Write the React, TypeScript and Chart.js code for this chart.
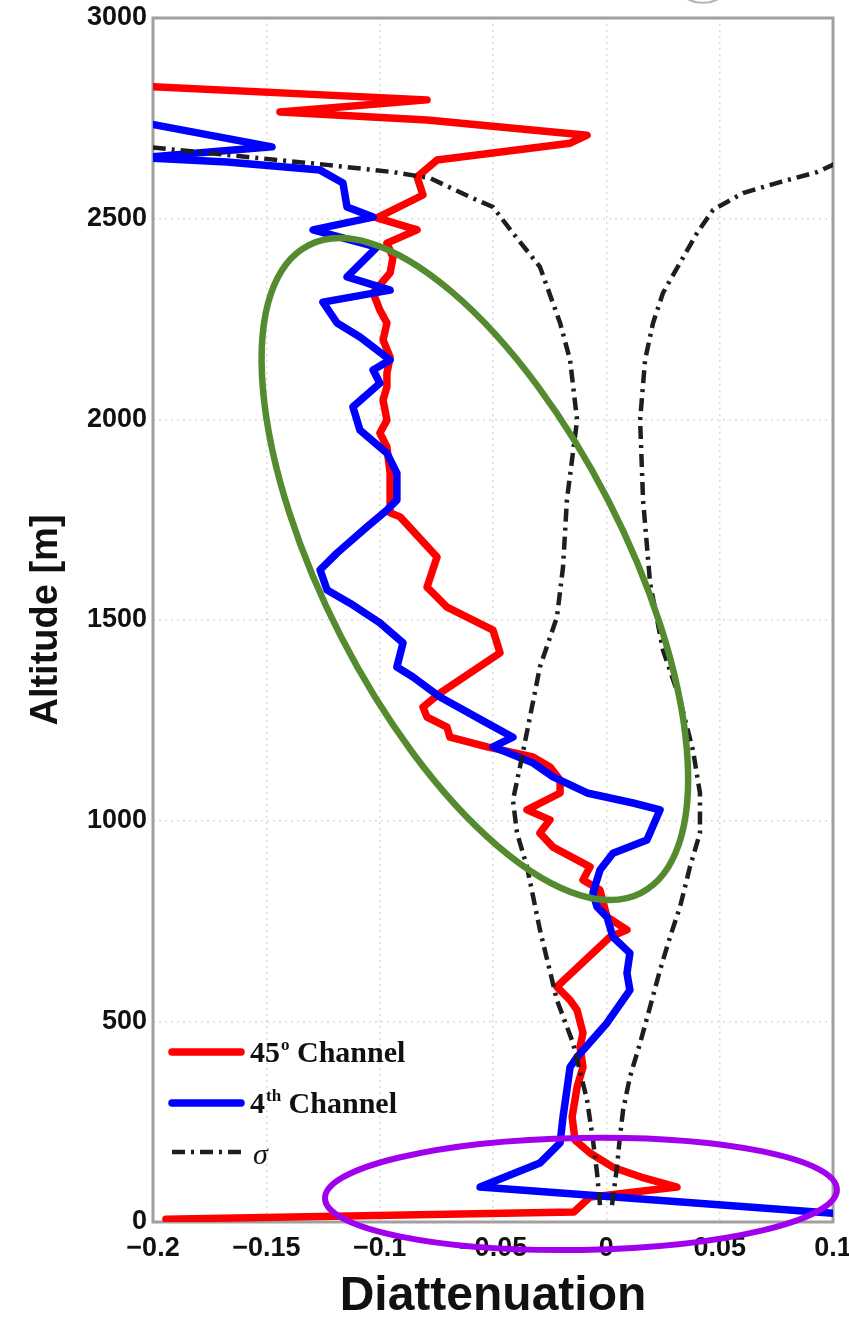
import { useEffect, useRef } from "react";
import { Chart, registerables } from "chart.js";

Chart.register(...registerables);

// 45° channel (red), altitude [m] and diattenuation
const red45Altitude = [7, 25, 62, 87, 112, 135, 172, 204, 262, 336, 386, 436, 471, 528, 553, 586, 710, 728, 760, 827, 852, 885, 934, 969, 1002, 1027, 1069, 1101, 1134, 1159, 1184, 1208, 1233, 1258, 1283, 1318, 1418, 1475, 1532, 1582, 1657, 1757, 1767, 1866, 1931, 1966, 1998, 2048, 2081, 2115, 2155, 2198, 2240, 2272, 2315, 2365, 2404, 2439, 2472, 2502, 2559, 2604, 2646, 2688, 2708, 2746, 2766, 2796, 2830];
const red45Value = [-0.1943, -0.0143, -0.0072, 0.0312, 0.0153, 0.0034, -0.0072, -0.0138, -0.0151, -0.0129, -0.0103, -0.0116, -0.0103, -0.0129, -0.016, -0.0218, 0.0016, 0.0091, 0.0003, -0.0028, -0.0103, -0.0072, -0.0235, -0.0293, -0.0249, -0.035, -0.0204, -0.0204, -0.0249, -0.0324, -0.0526, -0.069, -0.0703, -0.0791, -0.0809, -0.0734, -0.0469, -0.05, -0.0703, -0.0791, -0.0747, -0.091, -0.0954, -0.0954, -0.0968, -0.0999, -0.0968, -0.0985, -0.0968, -0.0968, -0.0954, -0.0985, -0.0968, -0.0999, -0.1029, -0.0954, -0.0941, -0.0968, -0.0835, -0.1012, -0.0809, -0.0835, -0.0747, -0.016, -0.0085, -0.0791, -0.144, -0.0791, -0.205];

// 4th channel (blue)
const blue4thAltitude = [22, 87, 147, 197, 262, 329, 386, 411, 496, 578, 620, 670, 710, 760, 785, 820, 877, 919, 952, 1027, 1044, 1069, 1109, 1144, 1184, 1208, 1243, 1308, 1358, 1383, 1443, 1493, 1542, 1575, 1625, 1667, 1732, 1774, 1799, 1866, 1916, 1973, 2031, 2090, 2123, 2148, 2205, 2240, 2292, 2322, 2355, 2429, 2472, 2504, 2529, 2589, 2621, 2641, 2652, 2679, 2740];
const blue4thValue = [0.1, -0.0557, -0.0293, -0.0204, -0.0191, -0.0174, -0.016, -0.0129, 0.0003, 0.0104, 0.0091, 0.0104, 0.0029, 0.0003, -0.0041, -0.0059, -0.0028, 0.0029, 0.0179, 0.0237, 0.0118, -0.0085, -0.0235, -0.0324, -0.05, -0.0412, -0.0526, -0.0734, -0.0853, -0.0924, -0.0897, -0.0999, -0.1131, -0.1232, -0.1263, -0.1188, -0.1056, -0.0968, -0.0924, -0.0924, -0.0968, -0.1087, -0.1118, -0.0999, -0.1029, -0.0954, -0.1087, -0.1188, -0.125, -0.0954, -0.1144, -0.1012, -0.1294, -0.1029, -0.1144, -0.1162, -0.1263, -0.1674, -0.205, -0.1475, -0.205];

// sigma envelope (dash-dot)
const sigmaLeftAltitude = [42, 122, 204, 304, 446, 553, 728, 885, 969, 1051, 1134, 1258, 1383, 1507, 1632, 1799, 1998, 2148, 2240, 2380, 2464, 2529, 2554, 2601, 2616, 2634, 2680];
const sigmaLeftValue = [-0.0028, -0.0041, -0.0059, -0.0085, -0.0147, -0.0218, -0.0293, -0.035, -0.0394, -0.0412, -0.0381, -0.0337, -0.0293, -0.0218, -0.0191, -0.0174, -0.0129, -0.016, -0.0204, -0.0293, -0.0412, -0.05, -0.0601, -0.0778, -0.0941, -0.1232, -0.205];
const sigmaRightAltitude = [42, 137, 212, 279, 361, 446, 536, 628, 710, 785, 885, 969, 1069, 1176, 1301, 1425, 1592, 1799, 1998, 2148, 2240, 2315, 2390, 2464, 2522, 2564, 2591, 2616, 2645];
const sigmaRightValue = [0.0025, 0.0047, 0.006, 0.0074, 0.0104, 0.0149, 0.0193, 0.0237, 0.0281, 0.0325, 0.0369, 0.0413, 0.0413, 0.0382, 0.0325, 0.025, 0.0193, 0.0162, 0.0149, 0.0171, 0.0206, 0.025, 0.0325, 0.04, 0.0471, 0.0603, 0.0766, 0.0929, 0.104];

const xTickValues = [-0.2, -0.15, -0.1, -0.05, 0, 0.05, 0.1];
const xTickLabels = ["\u22120.2", "\u22120.15", "\u22120.1", "\u22120.05", "0", "0.05", "0.1"];
const yTickValues = [0, 500, 1000, 1500, 2000, 2500, 3000];
const yTickLabels = ["0", "500", "1000", "1500", "2000", "2500", "3000"];

const legendMain = ["45", "4", "\u03C3"];
const legendSup = ["o", "th", ""];
const legendRest = [" Channel", " Channel", ""];

const xTitle = "Diattenuation";
const yTitle = "Altitude [m]";

const toPoints = (vals: number[], alts: number[]) => vals.map((v, i) => ({ x: v, y: alts[i] }));

const SANS = '"Liberation Sans", Arial, sans-serif';
const SERIF = '"Liberation Serif", "Times New Roman", serif';
const SIGMA_DASH = [13, 6, 3, 6];

export default function App() {
  const ref = useRef<HTMLCanvasElement>(null);

  useEffect(() => {
    const canvas = ref.current;
    if (!canvas) return;

    const deco = {
      id: "deco",
      beforeDatasetsDraw(chart: any) {
        const { ctx, chartArea: a } = chart;
        ctx.save();
        ctx.strokeStyle = "#a0a0a0";
        ctx.lineWidth = 3;
        ctx.strokeRect(a.left, a.top, a.right - a.left, a.bottom - a.top);
        ctx.restore();
      },
      afterDraw(chart: any) {
        const { ctx, chartArea: a, scales } = chart;
        const xs = scales.x;
        const ys = scales.y;
        // legend
        const rows = [a.bottom - 170, a.bottom - 119, a.bottom - 70];
        const styles = [
          { color: "#ff0000", width: 7.5, dash: [] as number[] },
          { color: "#0000ff", width: 7.5, dash: [] as number[] },
          { color: "#1e1e1e", width: 4.5, dash: SIGMA_DASH },
        ];
        ctx.save();
        rows.forEach((y, i) => {
          const s = styles[i];
          ctx.beginPath();
          ctx.setLineDash(s.dash);
          ctx.strokeStyle = s.color;
          ctx.lineWidth = s.width;
          ctx.lineCap = i < 2 ? "round" : "butt";
          ctx.moveTo(a.left + 19, y);
          ctx.lineTo(a.left + 88, y);
          ctx.stroke();
          ctx.setLineDash([]);
          ctx.fillStyle = "#111";
          ctx.textBaseline = "alphabetic";
          ctx.textAlign = "left";
          let x = a.left + 97;
          if (i === 2) {
            ctx.font = `italic 30px ${SERIF}`;
            ctx.fillText(legendMain[i], x + 3, y + 12);
            return;
          }
          ctx.font = `bold 30px ${SERIF}`;
          ctx.fillText(legendMain[i], x, y + 10);
          x += ctx.measureText(legendMain[i]).width;
          ctx.font = `bold 17px ${SERIF}`;
          ctx.fillText(legendSup[i], x + 1, y - 2);
          x += ctx.measureText(legendSup[i]).width + 1;
          ctx.font = `bold 30px ${SERIF}`;
          ctx.fillText(legendRest[i], x, y + 10);
        });
        ctx.restore();

        // annotation ellipses
        const ell = (cxv: number, cyv: number, rx: number, ry: number, rot: number, color: string, w: number) => {
          ctx.save();
          ctx.beginPath();
          ctx.ellipse(xs.getPixelForValue(cxv), ys.getPixelForValue(cyv), rx, ry, rot, 0, Math.PI * 2);
          ctx.strokeStyle = color;
          ctx.lineWidth = w;
          ctx.stroke();
          ctx.restore();
        };
        ell(-0.058, 1627, 364, 150, (62.8 * Math.PI) / 180, "#558B2F", 6.5);
        ell(-0.0112, 70, 256, 56, (-1 * Math.PI) / 180, "#A100EE", 6);
        ell(0.0426, 3120, 32, 33, 0, "#b4b4b4", 2);
      },
    };

    const chart = new Chart(canvas, {
      type: "scatter",
      data: {
        datasets: [
          {
            label: "\u03C3",
            data: toPoints(sigmaLeftValue, sigmaLeftAltitude),
            showLine: true,
            borderColor: "#1e1e1e",
            borderWidth: 4.5,
            borderDash: SIGMA_DASH,
            pointRadius: 0,
            order: 0,
          },
          {
            label: "\u03C3 ",
            data: toPoints(sigmaRightValue, sigmaRightAltitude),
            showLine: true,
            borderColor: "#1e1e1e",
            borderWidth: 4.5,
            borderDash: SIGMA_DASH,
            pointRadius: 0,
            order: 0,
          },
          {
            label: "4th Channel",
            data: toPoints(blue4thValue, blue4thAltitude),
            showLine: true,
            borderColor: "#0000ff",
            borderWidth: 7.5,
            borderJoinStyle: "round",
            borderCapStyle: "round",
            pointRadius: 0,
            order: 1,
          },
          {
            label: "45° Channel",
            data: toPoints(red45Value, red45Altitude),
            showLine: true,
            borderColor: "#ff0000",
            borderWidth: 7.5,
            borderJoinStyle: "round",
            borderCapStyle: "round",
            pointRadius: 0,
            order: 2,
          },
        ],
      } as any,
      options: {
        animation: false,
        responsive: true,
        maintainAspectRatio: false,
        layout: { padding: { left: 0, right: 16, top: 18, bottom: 0 } },
        plugins: { legend: { display: false }, tooltip: { enabled: false } },
        scales: {
          x: {
            type: "linear",
            min: -0.2,
            max: 0.1,
            afterBuildTicks: (s: any) => {
              s.ticks = xTickValues.map((v) => ({ value: v }));
            },
            afterFit: (s: any) => {
              s.height = 108;
              s.paddingLeft = 0;
              s.paddingRight = 0;
            },
            ticks: {
              autoSkip: false,
              maxRotation: 0,
              padding: 10,
              color: "#111",
              font: { family: SANS, size: 27, weight: "bold" },
              callback: (_v: any, i: number) => xTickLabels[i],
            },
            grid: { color: "rgba(0,0,0,0.14)", lineWidth: 1.5, drawTicks: false },
            border: { display: false, dash: [2, 4] },
            title: {
              display: true,
              text: xTitle,
              color: "#111",
              font: { family: SANS, size: 48, weight: "bold" },
              padding: { top: 0, bottom: 4 },
            },
          },
          y: {
            type: "linear",
            min: 0,
            max: 3000,
            afterBuildTicks: (s: any) => {
              s.ticks = yTickValues.map((v) => ({ value: v }));
            },
            afterFit: (s: any) => {
              s.width = 153;
              s.paddingTop = 0;
              s.paddingBottom = 0;
            },
            ticks: {
              autoSkip: false,
              padding: 6,
              color: "#111",
              font: { family: SANS, size: 27, weight: "bold" },
              callback: (_v: any, i: number) => yTickLabels[i],
            },
            grid: { color: "rgba(0,0,0,0.14)", lineWidth: 1.5, drawTicks: false },
            border: { display: false, dash: [2, 4] },
            title: {
              display: true,
              text: yTitle,
              color: "#111",
              font: { family: SANS, size: 38, weight: "bold" },
              padding: { top: 24, bottom: 0 },
            },
          },
        },
      } as any,
      plugins: [deco],
    });

    return () => chart.destroy();
  }, []);

  return (
    <div style={{ position: "absolute", left: 0, top: 0, width: 849, height: 1330, background: "#fff" }}>
      <canvas ref={ref} />
    </div>
  );
}
